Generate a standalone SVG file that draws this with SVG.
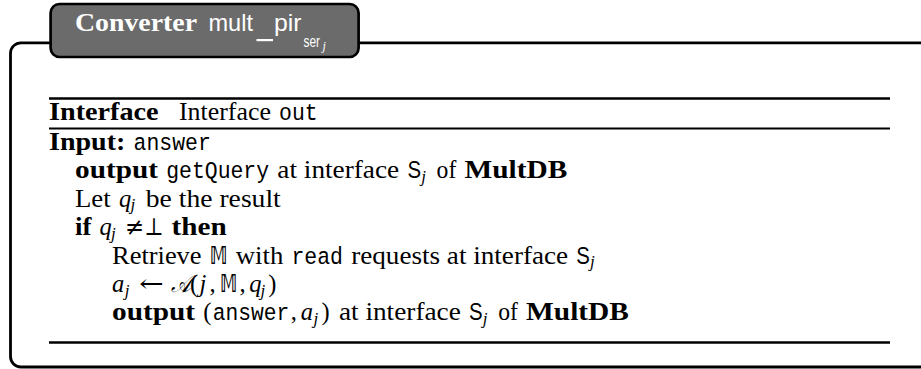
<svg xmlns="http://www.w3.org/2000/svg" width="921" height="369" viewBox="0 0 921 369">
<style>
text{font-family:"Liberation Serif",serif;font-size:24.5px;fill:#000}
.bf{font-weight:bold}
.it{font-style:italic}
.tt{font-family:"Liberation Mono",monospace}
.sf{font-family:"Liberation Sans",sans-serif}
.sub{font-size:17px;font-style:italic}
.sym{font-family:"DejaVu Serif",serif}
.bb{font-family:"DejaVu Sans","DejaVu Serif",sans-serif;font-weight:bold}
.w{fill:#fff}
.rule{stroke:#000;fill:none}
</style>
<rect x="0" y="0" width="921" height="369" fill="#fff"/>
<g id="frame">
<path class="rule" stroke-width="2.8" d="M921 42.8H21A10.5 10.5 0 0 0 10.5 53.3V356.5A10.5 10.5 0 0 0 21 367H921"/>
</g>
<g id="title">
<rect x="50.6" y="4" width="308" height="53" rx="9" fill="#6b6b6b" stroke="#000" stroke-width="2.7"/>
<rect class="w" x="256.5" y="39" width="16.5" height="2.2"/>
<text class="w" x="75" y="30.5"><tspan class="bf" textLength="122" lengthAdjust="spacingAndGlyphs">Converter</tspan><tspan class="sf" x="208.5" textLength="44.5" lengthAdjust="spacingAndGlyphs">mult</tspan><tspan class="sf" x="274" textLength="27.5" lengthAdjust="spacingAndGlyphs">pir</tspan><tspan class="sf" x="303.5" dy="16" style="font-size:16px" textLength="16.5" lengthAdjust="spacingAndGlyphs">ser</tspan><tspan class="it" x="322.5" dy="3" style="font-size:12px">j</tspan></text>
</g>
<g id="rules">
<line class="rule" x1="49" y1="98.5" x2="890" y2="98.5" stroke-width="2.7"/>
<line class="rule" x1="49" y1="128.5" x2="890" y2="128.5" stroke-width="2.1"/>
<line class="rule" x1="49" y1="342.5" x2="890" y2="342.5" stroke-width="2.6"/>
</g>
<g id="header">
<text x="49" y="120"><tspan class="bf" textLength="109.6" lengthAdjust="spacingAndGlyphs">Interface</tspan><tspan x="179" textLength="91.9" lengthAdjust="spacingAndGlyphs">Interface</tspan><tspan class="tt" x="279.1" textLength="38.6" lengthAdjust="spacingAndGlyphs">out</tspan></text>
</g>
<g id="body">
<text x="49" y="150"><tspan class="bf" textLength="76.4" lengthAdjust="spacingAndGlyphs">Input:</tspan><tspan class="tt" x="133.6" textLength="77.2" lengthAdjust="spacingAndGlyphs">answer</tspan></text>

<text x="75" y="178.4"><tspan class="bf" textLength="83" lengthAdjust="spacingAndGlyphs">output</tspan><tspan class="tt" x="166.2" textLength="102.9" lengthAdjust="spacingAndGlyphs">getQuery</tspan><tspan x="277.3" textLength="121.9" lengthAdjust="spacingAndGlyphs">at interface</tspan><tspan class="sf" x="407.4" textLength="13.6" lengthAdjust="spacingAndGlyphs">S</tspan><tspan class="sub" x="421.2" dy="3.6">j</tspan><tspan x="436.6" dy="-3.6" textLength="19.7" lengthAdjust="spacingAndGlyphs">of</tspan><tspan class="bf" x="464.5" textLength="102.8" lengthAdjust="spacingAndGlyphs">MultDB</tspan></text>

<text x="75" y="206.8"><tspan textLength="35.7" lengthAdjust="spacingAndGlyphs">Let</tspan><tspan class="it" x="118.9">q</tspan><tspan class="sub" x="130.4" dy="3.6">j</tspan><tspan x="145.8" dy="-3.6" textLength="135" lengthAdjust="spacingAndGlyphs">be the result</tspan></text>

<text x="75" y="235.2"><tspan class="bf" textLength="16.4" lengthAdjust="spacingAndGlyphs">if</tspan><tspan class="it" x="99.6">q</tspan><tspan class="sub" x="111.1" dy="3.6">j</tspan><tspan class="sym" x="125.1" dy="-3.6" textLength="19.1" lengthAdjust="spacingAndGlyphs">≠</tspan><tspan class="sym" x="144.2" textLength="19.1" lengthAdjust="spacingAndGlyphs">⊥</tspan><tspan class="bf" x="171.5" textLength="55.2" lengthAdjust="spacingAndGlyphs">then</tspan></text>

<text x="112" y="263.6"><tspan textLength="89.6" lengthAdjust="spacingAndGlyphs">Retrieve</tspan><tspan class="bb" x="209.8" textLength="17.7" lengthAdjust="spacingAndGlyphs">𝕄</tspan><tspan x="235.7" textLength="47.6" lengthAdjust="spacingAndGlyphs">with</tspan><tspan class="tt" x="291.5" textLength="51.5" lengthAdjust="spacingAndGlyphs">read</tspan><tspan x="351.2" textLength="216.9" lengthAdjust="spacingAndGlyphs">requests at interface</tspan><tspan class="sf" x="576.3" textLength="13.6" lengthAdjust="spacingAndGlyphs">S</tspan><tspan class="sub" x="590.1" dy="3.6">j</tspan></text>

<text x="112" y="292"><tspan class="it">a</tspan><tspan class="sub" x="124.8" dy="3.6">j</tspan><tspan class="sym" x="139.2" dy="-3.6" textLength="24.5" lengthAdjust="spacingAndGlyphs">←</tspan><tspan class="it" x="170.5" textLength="19.5" lengthAdjust="spacingAndGlyphs">𝒜</tspan><tspan x="190">(</tspan><tspan class="it" x="199.6">j</tspan><tspan x="209.6">,</tspan><tspan class="bb" x="220" textLength="17.2" lengthAdjust="spacingAndGlyphs">𝕄</tspan><tspan x="239.6">,</tspan><tspan class="it" x="249.2">q</tspan><tspan class="sub" x="260.5" dy="3.6">j</tspan><tspan x="268.2" dy="-3.6">)</tspan></text>

<text x="112" y="320.4"><tspan class="bf" textLength="83" lengthAdjust="spacingAndGlyphs">output</tspan><tspan x="203.2">(</tspan><tspan class="tt" x="212.7" textLength="76.5" lengthAdjust="spacingAndGlyphs">answer</tspan><tspan x="290.8">,</tspan><tspan class="it" x="300.8">a</tspan><tspan class="sub" x="313.6" dy="3.6">j</tspan><tspan x="321.4" dy="-3.6">)</tspan><tspan x="338.9" textLength="121.9" lengthAdjust="spacingAndGlyphs">at interface</tspan><tspan class="sf" x="469" textLength="13.6" lengthAdjust="spacingAndGlyphs">S</tspan><tspan class="sub" x="482.8" dy="3.6">j</tspan><tspan x="498.2" dy="-3.6" textLength="19.7" lengthAdjust="spacingAndGlyphs">of</tspan><tspan class="bf" x="526.1" textLength="102.8" lengthAdjust="spacingAndGlyphs">MultDB</tspan></text>
</g>
</svg>
